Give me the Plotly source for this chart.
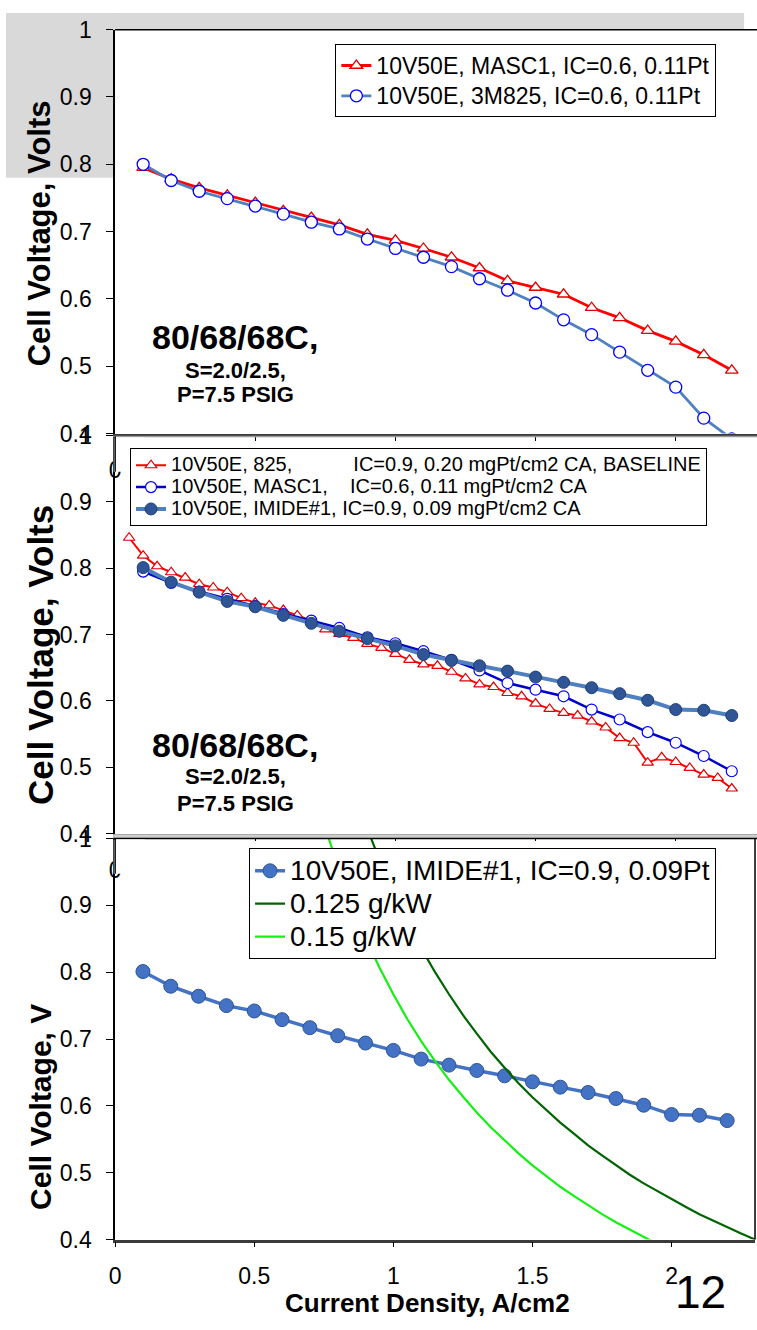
import plotly.graph_objects as go

W, H = 757, 1330
FONT = "Liberation Sans, Arial, sans-serif"

# ---------------- data ----------------
# current density, A/cm2
current_a = [0.1, 0.2, 0.3, 0.4, 0.5, 0.6, 0.7, 0.8, 0.9, 1.0, 1.1,
             1.2, 1.3, 1.4, 1.5, 1.6, 1.7, 1.8, 1.9, 2.0, 2.1, 2.2]
current_b = [0.05, 0.10, 0.15, 0.20, 0.25, 0.30, 0.35, 0.40, 0.45, 0.50, 0.55,
             0.60, 0.65, 0.70, 0.75, 0.80, 0.85, 0.90, 0.95, 1.00, 1.05, 1.10,
             1.15, 1.20, 1.25, 1.30, 1.35, 1.40, 1.45, 1.50, 1.55, 1.60, 1.65,
             1.70, 1.75, 1.80, 1.85, 1.90, 1.95, 2.00, 2.05, 2.10, 2.15, 2.20]

# cell voltage, V
masc1_v = [0.795, 0.778, 0.765, 0.754, 0.743, 0.731, 0.721, 0.710, 0.696, 0.687, 0.675,
           0.662, 0.646, 0.627, 0.617, 0.607, 0.587, 0.572, 0.553, 0.537, 0.517, 0.494]
m825_v = [0.800, 0.776, 0.760, 0.749, 0.738, 0.726, 0.714, 0.704, 0.689, 0.675, 0.662,
          0.648, 0.630, 0.613, 0.594, 0.569, 0.547, 0.521, 0.494, 0.469, 0.423, 0.392]
imide_v = [0.801, 0.779, 0.764, 0.750, 0.742, 0.729, 0.717, 0.705, 0.694, 0.683, 0.670,
           0.661, 0.653, 0.645, 0.636, 0.628, 0.620, 0.611, 0.601, 0.587, 0.586, 0.578]
baseline_v = [0.846, 0.819, 0.803, 0.794, 0.786, 0.776, 0.771, 0.764, 0.755, 0.748, 0.744,
              0.737, 0.729, 0.721, 0.708, 0.701, 0.695, 0.686, 0.680, 0.671, 0.662, 0.655,
              0.653, 0.644, 0.634, 0.625, 0.621, 0.612, 0.607, 0.596, 0.588, 0.582, 0.578,
              0.569, 0.560, 0.544, 0.537, 0.507, 0.515, 0.508, 0.499, 0.489, 0.484, 0.468]

# constant Pt-specific-power lines
g125_i = [0.90, 0.95, 1.00, 1.05, 1.10, 1.15, 1.20, 1.25, 1.30, 1.35, 1.40, 1.45, 1.50,
          1.55, 1.60, 1.65, 1.70, 1.75, 1.80, 1.85, 1.90, 1.95, 2.00, 2.05, 2.10, 2.15,
          2.20, 2.25, 2.30]
g125_v = [1.022, 0.968, 0.920, 0.876, 0.836, 0.800, 0.767, 0.736, 0.708, 0.681, 0.657,
          0.634, 0.613, 0.594, 0.575, 0.558, 0.541, 0.526, 0.511, 0.497, 0.484, 0.472,
          0.460, 0.449, 0.438, 0.428, 0.418, 0.409, 0.400]
g150_i = [0.75, 0.80, 0.85, 0.90, 0.95, 1.00, 1.05, 1.10, 1.15, 1.20, 1.25, 1.30, 1.35,
          1.40, 1.45, 1.50, 1.55, 1.60, 1.65, 1.70, 1.75, 1.80, 1.85, 1.90, 1.95]
g150_v = [1.023, 0.959, 0.902, 0.852, 0.807, 0.767, 0.730, 0.697, 0.667, 0.639, 0.614,
          0.590, 0.568, 0.548, 0.529, 0.511, 0.495, 0.479, 0.465, 0.451, 0.438, 0.426,
          0.415, 0.404, 0.393]

y_tickvals = [0.4, 0.5, 0.6, 0.7, 0.8, 0.9, 1.0]
y_ticktext = ["0.4", "0.5", "0.6", "0.7", "0.8", "0.9", "1"]
x_tickvals = [0, 0.5, 1, 1.5, 2]
x_ticktext = ["0", "0.5", "1", "1.5", "2"]
x_ticktext_hidden = ["0", "", "", "", ""]


def px(x):
    return x / W


def py(y):
    return 1 - y / H


def leg_name(text, size):
    return f'<span style="font-size:{size}px">{text}</span>'


NB = "\u00a0"

fig = go.Figure()

# ---- panel 1 ----
fig.add_trace(go.Scatter(
    x=current_a, y=masc1_v, mode="lines+markers", xaxis="x", yaxis="y",
    name=leg_name("10V50E, MASC1, IC=0.6, 0.11Pt", 23), legend="legend",
    line=dict(color="#FF0000", width=2.8),
    marker=dict(symbol="triangle-up", size=11, color="white",
                line=dict(color="#E00000", width=1.3))))
fig.add_trace(go.Scatter(
    x=current_a, y=m825_v, mode="lines+markers", xaxis="x", yaxis="y",
    name=leg_name("10V50E, 3M825, IC=0.6, 0.11Pt", 23), legend="legend",
    line=dict(color="#4F81BD", width=2.8),
    marker=dict(symbol="circle", size=12, color="white",
                line=dict(color="#0000FF", width=1.3))))

# ---- panel 2 ----
fig.add_trace(go.Scatter(
    x=current_b, y=baseline_v, mode="lines+markers", xaxis="x2", yaxis="y2",
    name=leg_name("10V50E, 825," + NB * 11 + "IC=0.9, 0.20 mgPt/cm2 CA, BASELINE", 20),
    legend="legend2",
    line=dict(color="#FF0000", width=2),
    marker=dict(symbol="triangle-up", size=10, color="white",
                line=dict(color="#E00000", width=1.2))))
fig.add_trace(go.Scatter(
    x=current_a, y=masc1_v, mode="lines+markers", xaxis="x2", yaxis="y2",
    name=leg_name("10V50E, MASC1," + NB * 4 + "IC=0.6, 0.11 mgPt/cm2 CA", 20),
    legend="legend2",
    line=dict(color="#0000C8", width=2.5),
    marker=dict(symbol="circle", size=11, color="white",
                line=dict(color="#0000FF", width=1.2))))
fig.add_trace(go.Scatter(
    x=current_a, y=imide_v, mode="lines+markers", xaxis="x2", yaxis="y2",
    name=leg_name("10V50E, IMIDE#1, IC=0.9, 0.09 mgPt/cm2 CA", 20),
    legend="legend2",
    line=dict(color="#4F7FBF", width=4),
    marker=dict(symbol="circle", size=12, color="#2F5597",
                line=dict(color="#203F73", width=1))))

# ---- panel 3 ----
fig.add_trace(go.Scatter(
    x=current_a, y=imide_v, mode="lines+markers", xaxis="x3", yaxis="y3",
    name=leg_name("10V50E, IMIDE#1, IC=0.9, 0.09Pt", 28), legend="legend3",
    line=dict(color="#4472C4", width=3.5),
    marker=dict(symbol="circle", size=14, color="#4472C4",
                line=dict(color="#2E5597", width=1))))
fig.add_trace(go.Scatter(
    x=g125_i, y=g125_v, mode="lines", xaxis="x3", yaxis="y3",
    name=leg_name("0.125 g/kW", 28), legend="legend3",
    line=dict(color="#006400", width=2.2)))
fig.add_trace(go.Scatter(
    x=g150_i, y=g150_v, mode="lines", xaxis="x3", yaxis="y3",
    name=leg_name("0.15 g/kW", 28), legend="legend3",
    line=dict(color="#14F014", width=2.2)))

# ---------------- axes ----------------
tick_font = dict(family=FONT, size=23, color="black")


def yax(domain):
    return dict(domain=domain, range=[0.4, 1.0], tickvals=y_tickvals, ticktext=y_ticktext,
                ticks="outside", ticklen=7, tickwidth=1, tickcolor="black",
                ticklabelstandoff=10, tickfont=tick_font,
                showline=True, linecolor="black", linewidth=1.5,
                showgrid=False, zeroline=False, fixedrange=True)


def xax(anchor, rng, right, ticktext):
    return dict(domain=[px(110), px(right)], range=rng, anchor=anchor,
                tickvals=x_tickvals, ticktext=ticktext,
                ticks="outside", ticklen=5, tickwidth=1, tickcolor="black",
                ticklabelstandoff=9, tickfont=tick_font,
                showline=True, linecolor="#3A3A3A", linewidth=2.5,
                showgrid=False, zeroline=False, fixedrange=True)


fig.update_layout(
    width=W, height=H, margin=dict(l=0, r=0, t=0, b=0),
    paper_bgcolor="white", plot_bgcolor="white",
    font=dict(family=FONT, color="black"),
    xaxis=xax("y", [0, 2.29], W, x_ticktext_hidden),
    yaxis=yax([py(429), py(17)]),
    xaxis2=xax("y2", [0, 2.29], W, x_ticktext_hidden),
    yaxis2=yax([py(837), py(431)]),
    xaxis3=xax("y3", [0, 2.3], 755, x_ticktext),
    yaxis3=yax([py(1251), py(842)]),
    legend=dict(x=px(332), y=py(32), xanchor="left", yanchor="top",
                bgcolor="white", bordercolor="black", borderwidth=1,
                font=dict(family=FONT, size=21, color="black"), tracegroupgap=0),
    legend2=dict(x=px(125), y=py(444), xanchor="left", yanchor="top",
                 bgcolor="white", bordercolor="black", borderwidth=1,
                 font=dict(family=FONT, size=14.5, color="black"), tracegroupgap=0),
    legend3=dict(x=px(245), y=py(852), xanchor="left", yanchor="top",
                 bgcolor="white", bordercolor="black", borderwidth=1,
                 font=dict(family=FONT, size=23, color="black"), tracegroupgap=0),
)

# ---------------- background & frame pieces ----------------
shapes = []


def prect(x0, y0, x1, y1, color, layer="below"):
    shapes.append(dict(type="rect", xref="paper", yref="paper",
                       x0=px(x0), x1=px(x1), y0=py(y1), y1=py(y0),
                       fillcolor=color, line=dict(width=0), layer=layer))


def pline(x0, y0, x1, y1, color, width, layer="above"):
    shapes.append(dict(type="line", xref="paper", yref="paper",
                       x0=px(x0), x1=px(x1), y0=py(y0), y1=py(y1),
                       line=dict(color=color, width=width), layer=layer))


# grey slide band behind the top panel
prect(0, 0, 744, 17, "#D9D9D9")
prect(0, 0, 110, 168, "#D9D9D9")

# top border of panel 1
pline(110, 17, W, 17, "black", 1.5)
# shadow under the panel 1 / panel 2 category axes
pline(108, 432, W, 432, "#9A9A9A", 1.5)
prect(108, 837.5, W, 841.5, "#CFCFCF", layer="above")
# panel 3 frame (top and right)
pline(108, 842, W, 842, "black", 1.5)
pline(755, 842, 755, 1251, "black", 1.5)
# next panel overlaps the first tick label of the one above
prect(108.6, 433, 140, 468, "white", layer="above")
pline(110, 432, 110, 468, "black", 1.5)
prect(108.6, 843, 140, 878, "white", layer="above")
pline(110, 842, 110, 878, "black", 1.5)

fig.update_layout(shapes=shapes)

# ---------------- text ----------------
ann = []


def text(x, y, s, size, bold=False, angle=0):
    ann.append(dict(xref="paper", yref="paper", x=px(x), y=py(y), text=f"<b>{s}</b>" if bold else s,
                    showarrow=False, xanchor="center", yanchor="middle", textangle=angle,
                    font=dict(family=FONT, size=size, color="black")))


text(34, 225, "Cell Voltage, Volts", 31, bold=True, angle=-90)
text(34, 655, "Cell Voltage, Volts", 35, bold=True, angle=-90)
text(34, 1116, "Cell Voltage, V", 30, bold=True, angle=-90)

for (y0, y1, y2) in [(330, 365, 389), (747, 779, 806)]:
    text(231, y0, "80/68/68C,", 34, bold=True)
    text(231, y1, "S=2.0/2.5,", 22, bold=True)
    text(231, y2, "P=7.5 PSIG", 22, bold=True)

text(425, 1316, "Current Density, A/cm2", 26, bold=True)
text(700, 1304, "12", 46)

fig.update_layout(annotations=ann)

fig.write_html("out.html", include_plotlyjs=True, config={"displayModeBar": False})
